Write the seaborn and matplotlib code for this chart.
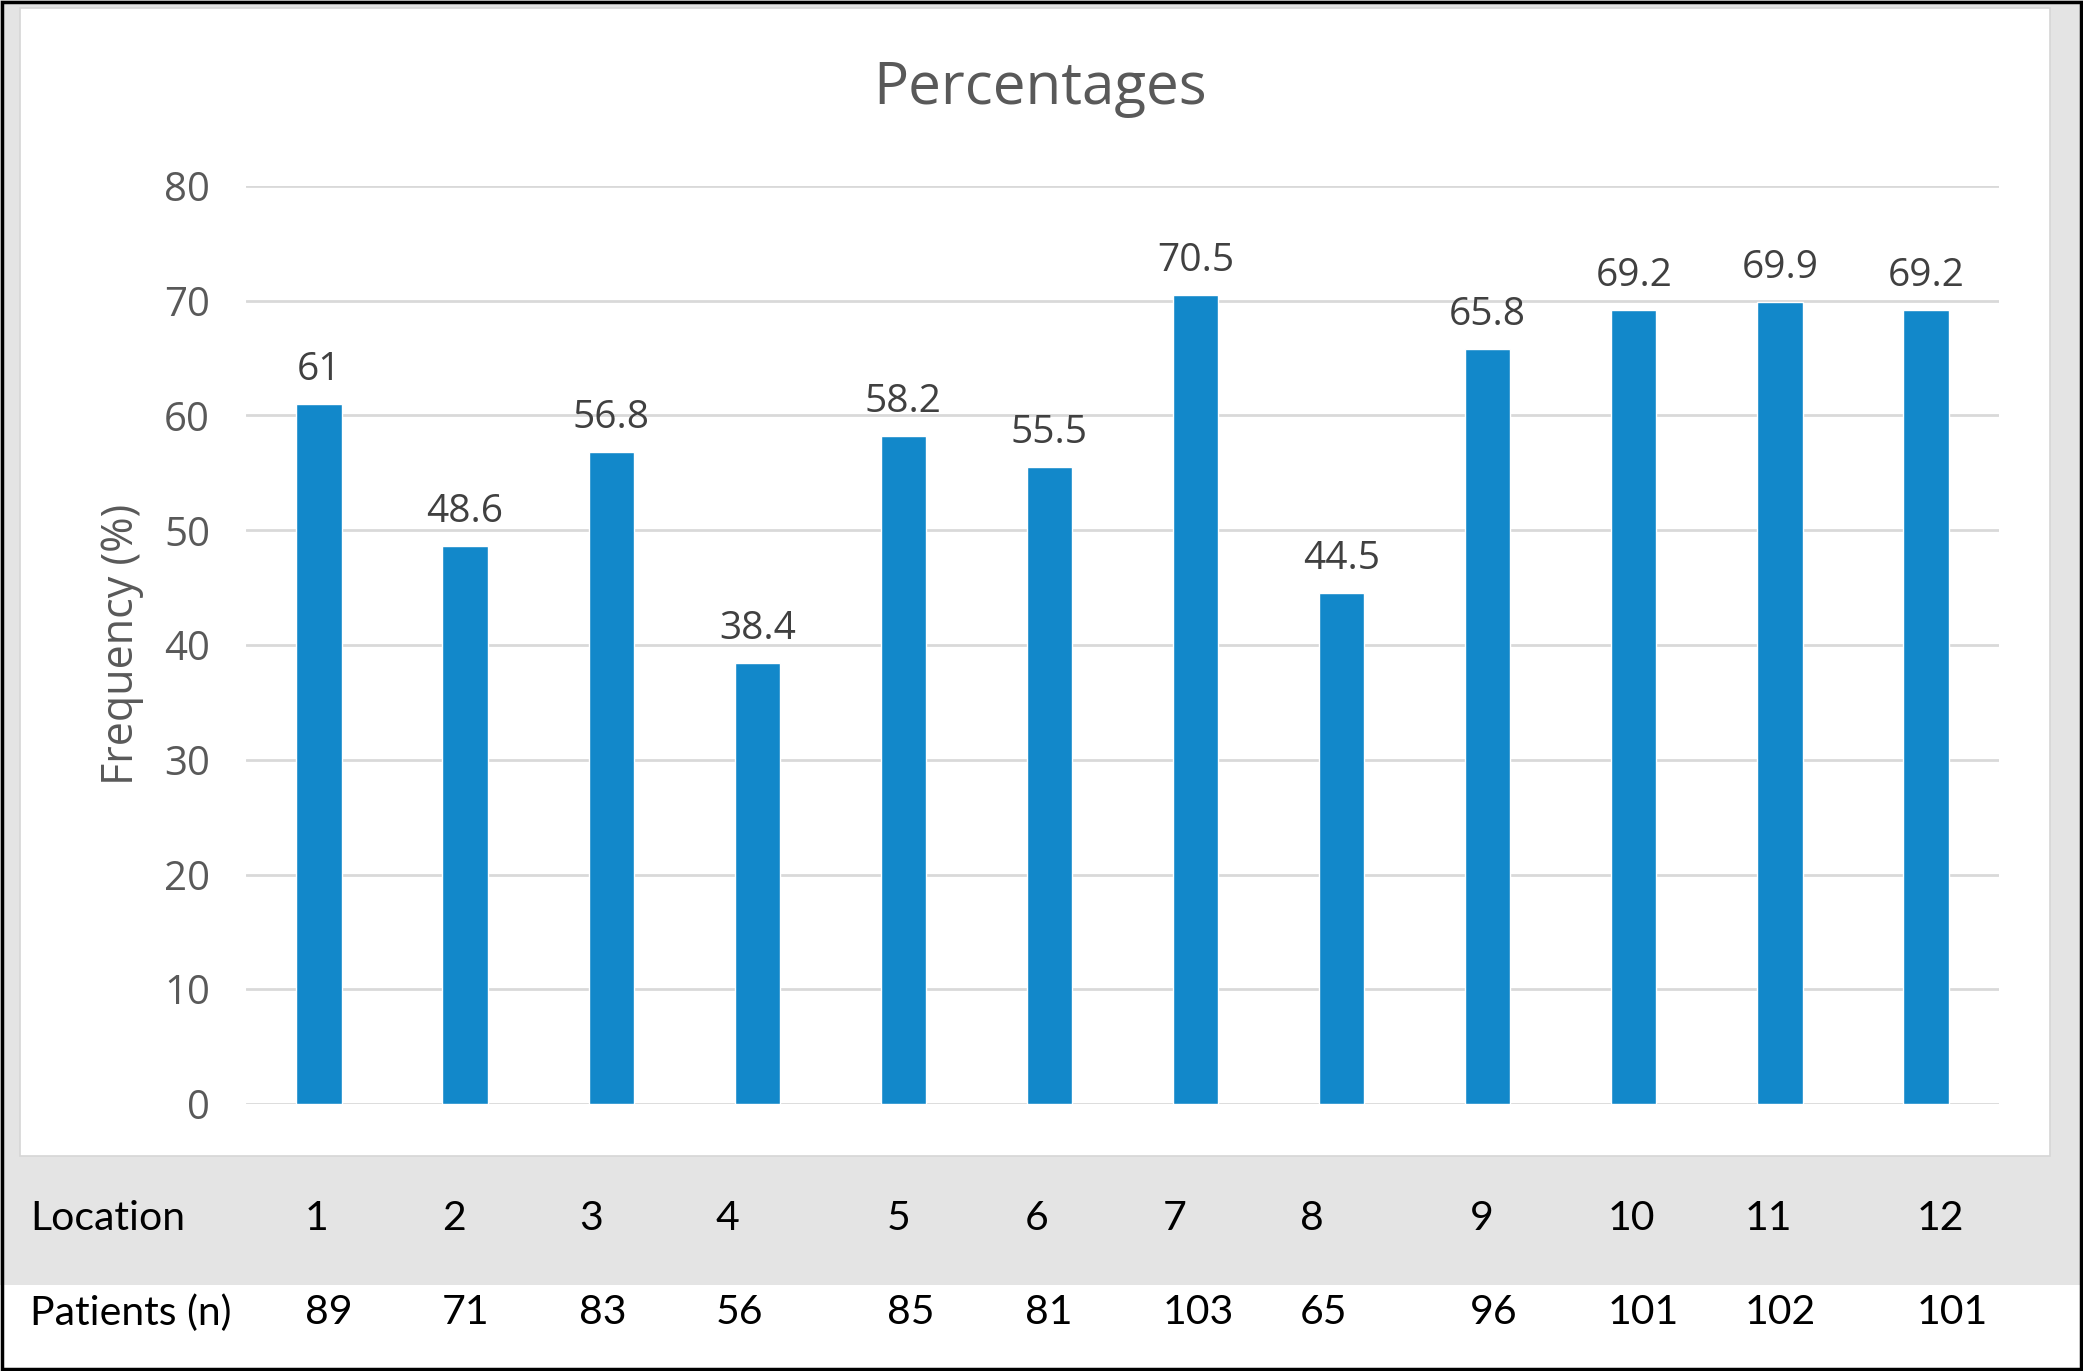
import matplotlib
matplotlib.use("Agg")
import matplotlib.pyplot as plt
from matplotlib.patches import Rectangle
import seaborn as sns
import pandas as pd

# ---- data ----
locations = ["1", "2", "3", "4", "5", "6", "7", "8", "9", "10", "11", "12"]
percentages = [61, 48.6, 56.8, 38.4, 58.2, 55.5, 70.5, 44.5, 65.8, 69.2, 69.9, 69.2]
patients = ["89", "71", "83", "56", "85", "81", "103", "65", "96", "101", "102", "101"]
yticks = [0, 10, 20, 30, 40, 50, 60, 70, 80]
title = "Percentages"
ylabel = "Frequency (%)"
row_labels = ["Location", "Patients (n)"]

# ---- layout (pixels in 2083x1371 figure) ----
W, H = 2083, 1371
col_left_px = [305, 442, 579, 716, 887, 1025, 1163, 1300, 1470, 1608, 1745, 1917]

sns.set_theme(style="white")
plt.rcParams["font.family"] = ["Open Sans", "DejaVu Sans"]

fig = plt.figure(figsize=(W / 100, H / 100), dpi=100)
fig.patch.set_facecolor("#e4e4e4")

def fx(px):
    return px / W

def fy(py):
    return 1 - py / H

# white chart panel
fig.patches.append(Rectangle((fx(20), fy(1156)), fx(2050) - fx(20), fy(8) - fy(1156),
                             transform=fig.transFigure, facecolor="white",
                             edgecolor="#d6d6d6", linewidth=1.2, zorder=-5))
# white lower table row
fig.patches.append(Rectangle((0, 0), 1, fy(1285), transform=fig.transFigure,
                             facecolor="white", edgecolor="none", zorder=-5))
# outer black frame
fig.patches.append(Rectangle((0.0008, 0.0012), 0.9984, 0.9976, transform=fig.transFigure,
                             facecolor="none", edgecolor="black", linewidth=2.5, zorder=10))

ax = fig.add_axes([fx(246), fy(1104), fx(1999) - fx(246), fy(186) - fy(1104)])
ax.set_facecolor("none")
ax.set_zorder(1)

df = pd.DataFrame({"Location": locations, "Percent": percentages})
sns.barplot(data=df, x="Location", y="Percent", color="#1288CA", saturation=1,
            width=0.31, ax=ax, zorder=3)

ax.set_ylim(0, 80)
ax.set_xlim(-0.5, len(locations) - 0.5)
ax.set_yticks(yticks)
ax.set_yticklabels([str(t) for t in yticks], fontsize=29, color="#595959")
ax.tick_params(axis="y", length=0, pad=26)
ax.set_xticks([])
ax.set_xlabel("")
ax.set_ylabel("")
for s in ax.spines.values():
    s.set_visible(False)
ax.yaxis.grid(True, color="#d9d9d9", linewidth=2.0, zorder=0)
ax.set_axisbelow(True)

labels = [("%g" % v) for v in percentages]
ax.bar_label(ax.containers[0], labels=labels, padding=11, fontsize=28, color="#404040")

fig.text(fx(1040), fy(89), title, ha="center", va="center", fontsize=42, color="#595959")
fig.text(fx(122), fy(644), ylabel, ha="center", va="center", rotation=90,
         fontsize=31, color="#595959")

# table rows below chart
tfont = ["Lato", "DejaVu Sans"]
tsize = 29.5
fig.text(fx(30), fy(1218), row_labels[0], ha="left", va="center", fontsize=tsize,
         color="black", family=tfont)
fig.text(fx(30), fy(1313), row_labels[1], ha="left", va="center", fontsize=tsize,
         color="black", family=tfont)
for xl, loc, pat in zip(col_left_px, locations, patients):
    fig.text(fx(xl), fy(1218), loc, ha="left", va="center", fontsize=tsize,
             color="black", family=tfont)
    fig.text(fx(xl), fy(1313), pat, ha="left", va="center", fontsize=tsize,
             color="black", family=tfont)

fig.savefig("out.png", dpi=100, facecolor=fig.get_facecolor())
